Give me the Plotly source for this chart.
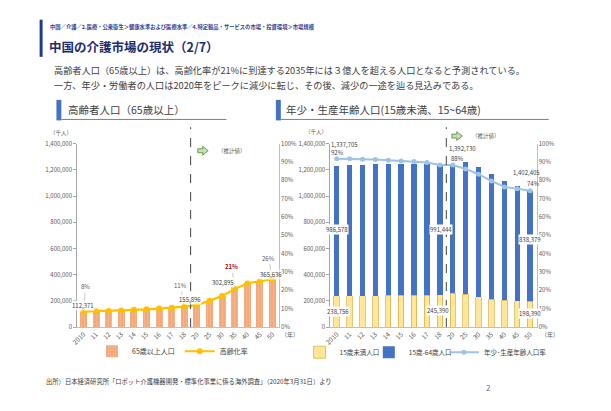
import plotly.graph_objects as go

W, H = 611, 411
FONT = "Noto Sans CJK JP"

years = ["2010", "11", "12", "13", "14", "15", "16", "17", "18",
         "20", "25", "30", "35", "40", "45", "50"]

# 高齢者人口（千人）と高齢化率
elderly = [112371, 114800, 118800, 123500, 127800, 131800, 137600, 144800, 155896,
           172000, 201000, 241000, 302895, 336000, 346000, 365636]
aging_rate = [0.084, 0.086, 0.088, 0.091, 0.094, 0.097, 0.101, 0.106, 0.112,
              0.121, 0.143, 0.170, 0.208, 0.238, 0.249, 0.261]

# 年少・生産年齢人口（千人）と比率
under15 = [238756, 238300, 239000, 240300, 241500, 242800, 243900, 244800, 245390,
           258000, 250000, 232000, 213000, 205000, 201000, 198390]
working = [986578, 996000, 999000, 1001000, 1003000, 1002000, 1000000, 997000, 991444,
           975000, 1008000, 992000, 956000, 907000, 876000, 838379]
young_rate = [0.917, 0.917, 0.915, 0.913, 0.909, 0.905, 0.902, 0.897, 0.884,
              0.883, 0.862, 0.833, 0.796, 0.764, 0.754, 0.743]

# 総人口（ラベル用）
total_2010 = 1337705
total_2018 = 1392730
total_2050 = 1402405


def px(x):
    return x / W


def py(y):
    return 1 - y / H


fig = go.Figure()

fig.add_trace(go.Bar(
    x=years, y=elderly, name="65歳以上人口", xaxis="x", yaxis="y", width=0.55,
    marker=dict(color="#F2A878", line=dict(width=0),
                pattern=dict(shape="|", fgcolor="#F8CBAD", size=3, solidity=0.3)),
    legend="legend"))
fig.add_trace(go.Scatter(
    x=years, y=aging_rate, name="高齢化率", xaxis="x", yaxis="y2", mode="lines+markers",
    line=dict(color="#FFC000", width=2.2), marker=dict(size=6, color="#FFC000"),
    legend="legend"))

fig.add_trace(go.Bar(
    x=years, y=under15, name="15歳未満人口", xaxis="x2", yaxis="y3", width=0.42,
    marker=dict(color="#FFE699", line=dict(color="#C9A227", width=0.6)),
    legend="legend2"))
fig.add_trace(go.Bar(
    x=years, y=working, name="15歳-64歳人口", xaxis="x2", yaxis="y3", width=0.42,
    marker=dict(color="#4472C4", line=dict(width=0)),
    legend="legend3"))
fig.add_trace(go.Scatter(
    x=years, y=young_rate, name="年少･生産年齢人口率", xaxis="x2", yaxis="y4",
    mode="lines+markers", line=dict(color="#9DC3E6", width=2),
    marker=dict(size=5, color="#9DC3E6"), legend="legend4"))

ydom = [py(329.3), py(141.7)]
tickfont = dict(size=6, color="#595959", family=FONT)

xcommon = dict(type="category", categoryorder="array", categoryarray=years,
               range=[-0.5, len(years) - 0.5], autorange=False,
               tickangle=-45, tickfont=dict(size=6.5, color="#595959", family=FONT),
               showline=True, linecolor="#BFBFBF", showgrid=False, ticks="", zeroline=False)
ycommon = dict(range=[0, 1400000], dtick=200000, tickformat=",", tickfont=tickfont,
               showline=True, linecolor="#A6A6A6", ticks="outside", ticklen=3, tickcolor="#A6A6A6",
               showgrid=False, zeroline=False, domain=ydom)
rcommon = dict(range=[0, 1], dtick=0.1, tickformat=".0%", tickfont=tickfont, side="right",
               showline=True, linecolor="#BFBFBF", ticks="", showgrid=False, zeroline=False)

fig.update_layout(
    xaxis=dict(domain=[px(71), px(275)], anchor="y", **xcommon),
    yaxis=dict(anchor="x", **ycommon),
    yaxis2=dict(anchor="x", overlaying="y", **rcommon),
    xaxis2=dict(domain=[px(327), px(535.7)], anchor="y3", **xcommon),
    yaxis3=dict(anchor="x2", **ycommon),
    yaxis4=dict(anchor="x2", overlaying="y3", **rcommon),
)

annotations = []


def text(x, y, s, size=6, color="#404040", anchor="left", bold=False, **kw):
    if bold:
        s = "<b>" + s + "</b>"
    annotations.append(dict(x=px(x), y=py(y), xref="paper", yref="paper", text=s,
                            showarrow=False, xanchor=anchor, yanchor="middle",
                            font=dict(size=size, color=color, family=FONT), **kw))


# ヘッダー
text(41, 23, "中国／介護／2.医療・公衆衛生＞健康水準および医療水準／4.特定製品・サービスの市場・投資環境＞市場規模",
     size=5.3, color="#2F3D8F", bold=True)
text(40, 42, "中国の介護市場の現状（2/7）", size=12.5, color="#1F2D6B", bold=True)
text(46, 66, "高齢者人口（65歳以上）は、高齢化率が21%に到達する2035年には３億人を超える人口となると予測されている。",
     size=9.2, color="#404040")
text(46, 82, "一方、年少・労働者の人口は2020年をピークに減少に転じ、その後、減少の一途を辿る見込みである。",
     size=9.2, color="#404040")
text(60, 107, "高齢者人口（65歳以上）", size=10.5, color="#404040")
text(280, 107, "年少・生産年齢人口(15歳未満、15~64歳)", size=10.5, color="#404040")

# 軸ラベル
text(55, 131, "（千人）", size=5.5, color="#595959", anchor="center")
text(313, 130, "（千人）", size=5.5, color="#595959", anchor="center")
text(286, 337, "（年）", size=6, color="#595959", anchor="center")
text(549, 337, "（年）", size=6, color="#595959", anchor="center")
text(211, 149, "（推計値）", size=5.5, color="#595959")
text(468, 134, "（推計値）", size=5.5, color="#595959")

# 出所・ページ番号
text(37, 385, "出所）日本経済研究所「ロボット介護機器開発・標準化事業に係る海外調査」（2020年3月31日）より",
     size=6.3, color="#404040")
text(487, 391, "2", size=8, color="#4472C4", anchor="center")


def pct(v):
    return f"{round(v * 100)}%"


def num(v):
    return f"{v:,}"


# 左グラフのラベル（高齢化率：引出し線つき）
for i, ax, ay, color, bold in [(0, 2, -25, "#595959", False), (8, -4, -21, "#595959", False),
                               (12, -3, -22, "#C00000", True), (15, -4, -21, "#595959", False)]:
    s = pct(aging_rate[i])
    annotations.append(dict(x=i, y=aging_rate[i], xref="x", yref="y2",
                            text="<b>" + s + "</b>" if bold else s,
                            showarrow=True, arrowhead=0, arrowwidth=0.6, arrowcolor="#A6A6A6",
                            ax=ax, ay=ay, font=dict(size=6, color=color, family=FONT)))

# 左グラフの人口ラベル
for i, xs, ys in [(0, 0, 7), (8, 6, 7), (12, -12, 5), (15, -2, 5)]:
    annotations.append(dict(x=i, y=elderly[i], xref="x", yref="y", text=num(elderly[i]),
                            showarrow=False, xshift=xs, yshift=ys, bgcolor="rgba(255,255,255,0.75)",
                            borderpad=0, font=dict(size=6, color="#404040", family=FONT)))


def rlabel(i, ypix, s, xs, white=False):
    d = dict(x=i, y=py(ypix), xref="x2", yref="paper", text=s, showarrow=False,
             xshift=xs, yanchor="middle", font=dict(size=6, color="#404040", family=FONT))
    if white:
        d.update(bgcolor="white", borderpad=0)
    annotations.append(d)


rlabel(0, 143, num(total_2010), 8)
rlabel(0, 151, pct(young_rate[0]), 1)
rlabel(0, 230, num(working[0]), 0, True)
rlabel(0, 313, num(under15[0]), 1, True)
rlabel(9, 147, num(total_2018), 10)
rlabel(9, 157, pct(young_rate[8]), 5)
rlabel(8, 230, num(working[8]), 1, True)
rlabel(8, 312, num(under15[8]), -2, True)
rlabel(15, 171, num(total_2050), -4)
rlabel(15, 182, pct(young_rate[15]), 3)
rlabel(15, 240, num(working[15]), 0, True)
rlabel(15, 315, num(under15[15]), 0, True)

shapes = [
    # 左上の縦線
    dict(type="rect", xref="paper", yref="paper", x0=px(33), x1=px(36), y0=py(53), y1=py(15),
         fillcolor="#1F3A93", line=dict(width=0)),
    # 見出しの飾り
    dict(type="rect", xref="paper", yref="paper", x0=px(50), x1=px(55), y0=py(118), y1=py(97),
         fillcolor="#4472C4", line=dict(width=0)),
    dict(type="line", xref="paper", yref="paper", x0=px(55), x1=px(222), y0=py(117), y1=py(117),
         line=dict(color="#7F7F7F", width=1)),
    dict(type="rect", xref="paper", yref="paper", x0=px(272), x1=px(277), y0=py(118), y1=py(97),
         fillcolor="#4472C4", line=dict(width=0)),
    dict(type="line", xref="paper", yref="paper", x0=px(277), x1=px(548), y0=py(117), y1=py(117),
         line=dict(color="#7F7F7F", width=1)),
    # 推計値の境界
    dict(type="line", xref="x", yref="paper", x0=8.5, x1=8.5, y0=py(329.3), y1=py(125),
         line=dict(color="#404040", width=1, dash="dash")),
    dict(type="line", xref="x2", yref="paper", x0=8.5, x1=8.5, y0=py(329.3), y1=py(125),
         line=dict(color="#404040", width=1, dash="dash")),
]


def arrow(cx, cy):
    pts = [(cx - 5, cy - 2), (cx, cy - 2), (cx, cy - 4.5), (cx + 5.5, cy), (cx, cy + 4.5),
           (cx, cy + 2), (cx - 5, cy + 2)]
    path = "M " + " L ".join(f"{px(a):.5f},{py(b):.5f}" for a, b in pts) + " Z"
    return dict(type="path", xref="paper", yref="paper", path=path,
                fillcolor="#C5E0B4", line=dict(color="#548235", width=0.8))


shapes += [arrow(198, 149), arrow(455, 134)]

legend_style = dict(orientation="h", yanchor="middle", xanchor="left",
                    bgcolor="rgba(0,0,0,0)", itemwidth=30, tracegroupgap=0,
                    traceorder="normal")
font_l = dict(size=7, color="#404040", family=FONT)
font_r = dict(size=6.5, color="#404040", family=FONT)

fig.update_layout(
    width=W, height=H, margin=dict(l=0, r=0, t=0, b=0),
    paper_bgcolor="white", plot_bgcolor="white",
    barmode="stack", bargap=0.45,
    font=dict(family=FONT),
    showlegend=True,
    legend=dict(x=px(86), y=py(354), font=font_l, **legend_style),
    legend2=dict(x=px(296), y=py(355), font=font_r, **legend_style),
    legend3=dict(x=px(366), y=py(355), font=font_r, **legend_style),
    legend4=dict(x=px(442), y=py(355), font=font_r, **legend_style),
    annotations=annotations, shapes=shapes,
)

fig.write_html("out.html", config={"displayModeBar": False},
               post_script="document.body.style.margin='0';")
